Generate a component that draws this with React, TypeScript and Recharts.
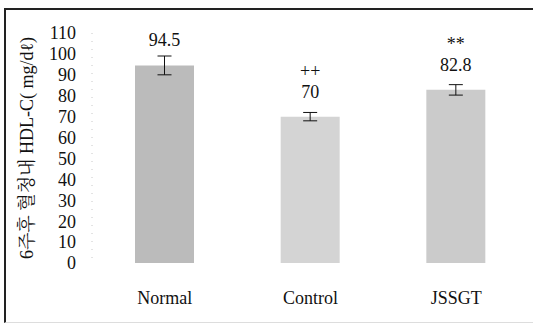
import React from "react";
import { BarChart, Bar, XAxis, YAxis, ErrorBar, LabelList, Cell } from "recharts";

const categories = ["Normal", "Control", "JSSGT"];
const values = [94.5, 70, 82.8];
const errors = [4.5, 2, 2.5];
const marks = ["", "++", "**"];
const fills = ["#bbbbbb", "#d4d4d4", "#cbcbcb"];
const yTicks = [0, 10, 20, 30, 40, 50, 60, 70, 80, 90, 100, 110];
const yLabel = "6주후 혈청내 HDL-C( mg/dℓ)";

const data = categories.map((c, i) => ({ name: c, value: values[i], err: errors[i], mark: marks[i] }));

const FONT = "Liberation Serif, Noto Serif CJK KR, serif";

const ValueLabel = (props: any) => {
  const { x, y, width, index } = props;
  const cx = x + width / 2;
  const d = data[index];
  return (
    <g>
      <text x={cx} y={y - 25} textAnchor="middle" dominantBaseline="central" style={{ fontFamily: FONT, fontSize: 18 }} fill="#111">
        {d.value}
      </text>
      {d.mark ? (
        <text x={cx} y={y - 46} textAnchor="middle" dominantBaseline="central" style={{ fontFamily: FONT, fontSize: 18 }} fill="#111">
          {d.mark}
        </text>
      ) : null}
    </g>
  );
};

const YLab = (props: any) => {
  const vb = props.viewBox || {};
  const cx = (vb.x || 0) + 27;
  const cy = (vb.y || 0) + (vb.height || 0) / 2;
  return (
    <text x={cx} y={cy} transform={`rotate(-90, ${cx}, ${cy})`} textAnchor="middle" dominantBaseline="central" style={{ fontFamily: FONT, fontSize: 18 }} fill="#111">
      {yLabel}
    </text>
  );
};

export default function App() {
  return (
    <div style={{ position: "absolute", left: 0, top: 0, width: 533, height: 326, background: "#fff", fontFamily: FONT }}>
      <div style={{ position: "absolute", left: 4, top: 8, width: 529, height: 315, borderTop: "2px solid #222", borderLeft: "2px solid #222", borderBottom: "1px solid #ddd", boxSizing: "border-box" }} />
      <div style={{ position: "absolute", left: 0, top: 0 }}>
        <BarChart width={533} height={326} data={data} margin={{ top: 33, right: 4, bottom: 33, left: 0 }} barCategoryGap={0} style={{ fontFamily: FONT }}>
          <XAxis dataKey="name" axisLine={false} tickLine={false} tickMargin={22} tick={{ fontFamily: FONT, fontSize: 18, fill: "#111", style: { fontFamily: FONT } }} interval={0} />
          <YAxis width={92} domain={[0, 110]} ticks={yTicks} interval={0} axisLine={{ stroke: "#c8c8c8", strokeDasharray: "1 7" }} tickLine={false} tickMargin={10} tick={{ fontFamily: FONT, fontSize: 18, fill: "#111", style: { fontFamily: FONT } }} label={<YLab />} />
          <Bar dataKey="value" barSize={59} isAnimationActive={false}>
            {data.map((d, i) => (
              <Cell key={d.name} fill={fills[i]} />
            ))}
            <ErrorBar dataKey="err" width={7} stroke="#111" strokeWidth={1} direction="y" />
            <LabelList dataKey="value" content={<ValueLabel />} />
          </Bar>
        </BarChart>
      </div>
    </div>
  );
}
